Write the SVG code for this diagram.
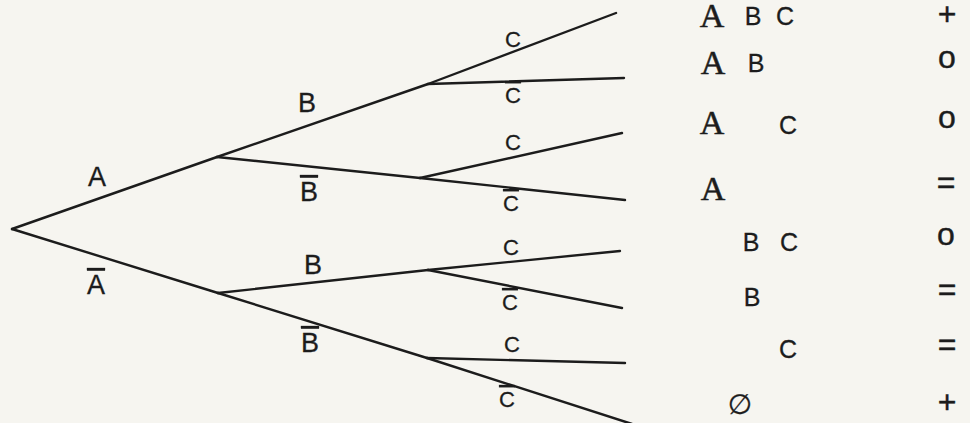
<svg xmlns="http://www.w3.org/2000/svg" width="970" height="423" viewBox="0 0 970 423">
  <style>
    .ln { stroke: #1c1c1c; stroke-width: 2.4; stroke-linecap: round; fill: none; }
    .lbl { font-family: "Liberation Sans", Arial, sans-serif; fill: #1c1c1c; stroke: #1c1c1c; stroke-width: 0.3; text-anchor: middle; }
    .b { font-size: 27px; }
    .c { font-size: 22px; }
    .r { font-size: 25px; }
    .ov { text-decoration: overline; }
    .ser { font-family: "Liberation Serif", "Times New Roman", serif; font-size: 34px; fill: #1c1c1c; stroke: #1c1c1c; stroke-width: 0.5; text-anchor: middle; }
    .sym { font-family: "Liberation Sans", Arial, sans-serif; font-size: 32px; fill: #1c1c1c; stroke: #1c1c1c; stroke-width: 0.4; text-anchor: middle; }
  </style>
  <rect x="0" y="0" width="970" height="423" fill="#f6f5f0"/>
  <g id="connectors">
    <line class="ln" x1="12" y1="229" x2="217" y2="157"/>
    <line class="ln" x1="12" y1="229" x2="218" y2="293"/>
    <line class="ln" x1="217" y1="157" x2="428" y2="84"/>
    <line class="ln" x1="217" y1="157" x2="420" y2="178"/>
    <line class="ln" x1="218" y1="293" x2="428" y2="270"/>
    <line class="ln" x1="218" y1="293" x2="427" y2="358"/>
    <line class="ln" x1="428" y1="84" x2="616" y2="13"/>
    <line class="ln" x1="428" y1="84" x2="624" y2="78"/>
    <line class="ln" x1="420" y1="178" x2="622" y2="133"/>
    <line class="ln" x1="420" y1="178" x2="625" y2="200"/>
    <line class="ln" x1="428" y1="270" x2="620" y2="251"/>
    <line class="ln" x1="428" y1="270" x2="622" y2="308"/>
    <line class="ln" x1="427" y1="358" x2="625" y2="363"/>
    <line class="ln" x1="427" y1="358" x2="632" y2="424"/>
  </g>
  <g id="label-A"><text class="lbl b" x="97" y="186">A</text></g>
  <g id="label-notA"><text class="lbl b ov" x="96" y="294">A</text></g>
  <g id="label-B1"><text class="lbl b" x="307" y="112">B</text></g>
  <g id="label-notB1"><text class="lbl b ov" x="309" y="201">B</text></g>
  <g id="label-B2"><text class="lbl b" x="313" y="274">B</text></g>
  <g id="label-notB2"><text class="lbl b ov" x="310" y="352">B</text></g>
  <g id="label-C1"><text class="lbl c" x="513" y="47">C</text></g>
  <g id="label-notC1"><text class="lbl c ov" x="513" y="103">C</text></g>
  <g id="label-C2"><text class="lbl c" x="513" y="150">C</text></g>
  <g id="label-notC2"><text class="lbl c ov" x="511" y="211">C</text></g>
  <g id="label-C3"><text class="lbl c" x="511" y="255">C</text></g>
  <g id="label-notC3"><text class="lbl c ov" x="510" y="310">C</text></g>
  <g id="label-C4"><text class="lbl c" x="512" y="352">C</text></g>
  <g id="label-notC4"><text class="lbl c ov" x="507" y="407">C</text></g>
  <g id="row1"><text class="ser" x="712" y="27">A</text><text class="lbl r" x="753" y="25">B</text><text class="lbl r" x="785" y="25">C</text><text class="sym" x="947" y="25">+</text></g>
  <g id="row2"><text class="ser" x="713" y="74">A</text><text class="lbl r" x="756" y="72">B</text><text class="sym" x="947" y="68">o</text></g>
  <g id="row3"><text class="ser" x="712" y="134">A</text><text class="lbl r" x="788" y="134">C</text><text class="sym" x="947" y="128">o</text></g>
  <g id="row4"><text class="ser" x="713" y="200">A</text><text class="sym" x="946" y="193">=</text></g>
  <g id="row5"><text class="lbl r" x="751" y="251">B</text><text class="lbl r" x="789" y="251">C</text><text class="sym" x="946" y="245">o</text></g>
  <g id="row6"><text class="lbl r" x="752" y="306">B</text><text class="sym" x="947" y="300">=</text></g>
  <g id="row7"><text class="lbl r" x="788" y="358">C</text><text class="sym" x="947" y="355">=</text></g>
  <g id="row8"><text class="lbl" style="font-family:'DejaVu Sans',sans-serif;font-size:28px" x="740" y="414">∅</text><text class="sym" x="947" y="413">+</text></g>
</svg>
